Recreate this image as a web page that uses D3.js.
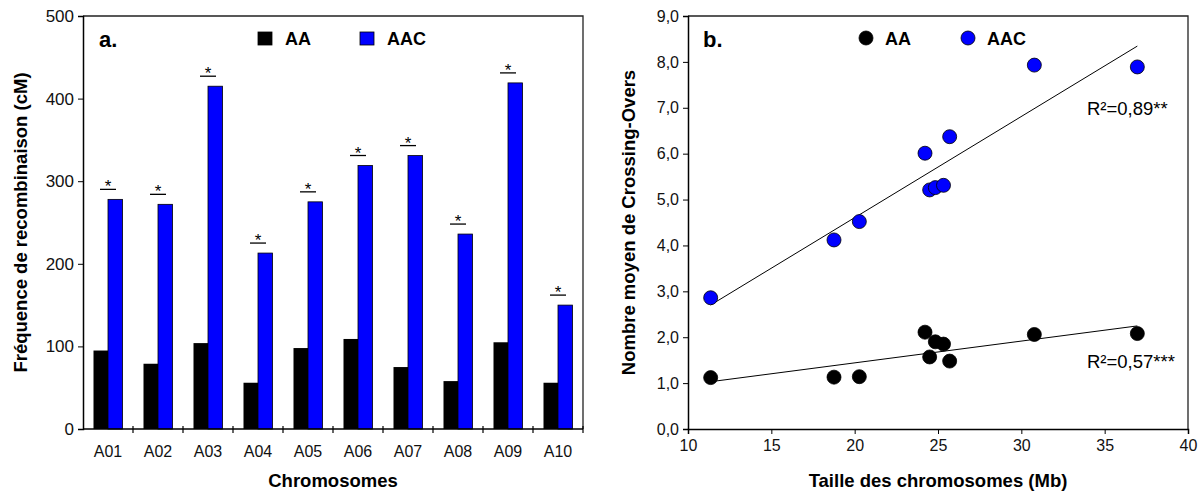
<!DOCTYPE html>
<html>
<head>
<meta charset="utf-8">
<script src="https://cdn.jsdelivr.net/npm/d3@7"></script>
<style>
  body { margin: 0; background: #fff; }
  svg text { font-family: Arial, "Liberation Sans", sans-serif; }
</style>
</head>
<body>
<div id="chart"></div>
<script>
// panel a: recombination frequency per chromosome
var chromosomes = ["A01", "A02", "A03", "A04", "A05", "A06", "A07", "A08", "A09", "A10"];
var freqAA  = [95, 79, 104, 56, 98, 109, 75, 58, 105, 56];
var freqAAC = [278, 272, 415, 213, 275, 319, 331, 236, 419, 150];
var yTicksA = [0, 100, 200, 300, 400, 500];

// panel b: mean crossing-overs vs chromosome size
var sizeMb  = [11.36, 18.76, 20.28, 24.22, 24.5, 24.84, 25.33, 25.7, 30.78, 36.96];
var coAA    = [1.12, 1.13, 1.14, 2.11, 1.57, 1.90, 1.85, 1.48, 2.06, 2.08];
var coAAC   = [2.86, 4.12, 4.52, 6.01, 5.21, 5.26, 5.31, 6.37, 7.93, 7.89];
var xTicksB = [10, 15, 20, 25, 30, 35, 40];
var yTicksB = [0, 1, 2, 3, 4, 5, 6, 7, 8, 9];
var r2Labels = ["R²=0,57***", "R²=0,89**"];

var width = 1203, height = 491;
var blue = "#0000ff";
var titleSize = 18.5;

var svg = d3.select("#chart").append("svg")
    .attr("width", width)
    .attr("height", height);

// ---------- panel a ----------
var topY = 16, bottomY = 429;
var ax0 = 83, ax1 = 583;

var xA = d3.scaleBand().domain(chromosomes).range([ax0, ax1]);
var yA = d3.scaleLinear().domain([0, 500]).range([bottomY, topY]);
var barW = 14.5;

var gA = svg.append("g");

// frame top/right
gA.append("path")
    .attr("d", "M" + ax0 + "," + topY + "H" + ax1 + "V" + bottomY)
    .attr("fill", "none").attr("stroke", "#222").attr("stroke-width", 1.3);

var groups = gA.selectAll(".grp")
    .data(chromosomes)
    .enter().append("g");

groups.append("rect")
    .attr("x", function(d) { return xA(d) + xA.bandwidth() / 2 - barW; })
    .attr("y", function(d, i) { return yA(freqAA[i]); })
    .attr("width", barW)
    .attr("height", function(d, i) { return bottomY - yA(freqAA[i]); })
    .attr("fill", "#000");

groups.append("rect")
    .attr("x", function(d) { return xA(d) + xA.bandwidth() / 2; })
    .attr("y", function(d, i) { return yA(freqAAC[i]); })
    .attr("width", barW)
    .attr("height", function(d, i) { return bottomY - yA(freqAAC[i]); })
    .attr("fill", blue)
    .attr("stroke", "#000")
    .attr("stroke-width", 0.8);

// significance marks
groups.append("line")
    .attr("x1", function(d) { return xA(d) + xA.bandwidth() / 2 - 8; })
    .attr("x2", function(d) { return xA(d) + xA.bandwidth() / 2 + 8; })
    .attr("y1", function(d, i) { return yA(freqAAC[i]) - 10; })
    .attr("y2", function(d, i) { return yA(freqAAC[i]) - 10; })
    .attr("stroke", "#000").attr("stroke-width", 1.3);

groups.append("text")
    .attr("x", function(d) { return xA(d) + xA.bandwidth() / 2; })
    .attr("y", function(d, i) { return yA(freqAAC[i]) - 7; })
    .attr("text-anchor", "middle")
    .attr("font-size", 17)
    .text("*");

// y axis
gA.append("g")
    .attr("transform", "translate(" + ax0 + ",0)")
    .call(d3.axisLeft(yA).tickValues(yTicksA).tickSize(5).tickPadding(4))
    .call(function(g) {
        g.select(".domain").attr("stroke-width", 1.5);
        g.selectAll("text").attr("font-size", 17).attr("fill", "#111");
    });

// x axis: labels centered, ticks at boundaries
gA.append("line")
    .attr("x1", ax0).attr("x2", ax1).attr("y1", bottomY).attr("y2", bottomY)
    .attr("stroke", "#000").attr("stroke-width", 1.5);
gA.selectAll(".xtick")
    .data(chromosomes)
    .enter().append("line")
    .attr("x1", function(d) { return xA(d) + xA.bandwidth(); })
    .attr("x2", function(d) { return xA(d) + xA.bandwidth(); })
    .attr("y1", bottomY - 3).attr("y2", bottomY + 4)
    .attr("stroke", "#000").attr("stroke-width", 1.2);
gA.selectAll(".xlab")
    .data(chromosomes)
    .enter().append("text")
    .attr("x", function(d) { return xA(d) + xA.bandwidth() / 2; })
    .attr("y", 457)
    .attr("text-anchor", "middle")
    .attr("font-size", 16)
    .attr("fill", "#111")
    .text(function(d) { return d; });

gA.append("text")
    .attr("x", (ax0 + ax1) / 2).attr("y", 487)
    .attr("text-anchor", "middle")
    .attr("font-size", titleSize).attr("font-weight", "bold")
    .text("Chromosomes");

gA.append("text")
    .attr("transform", "translate(27," + (topY + bottomY) / 2 + ") rotate(-90)")
    .attr("text-anchor", "middle")
    .attr("font-size", titleSize).attr("font-weight", "bold")
    .text("Fréquence de recombinaison (cM)");

gA.append("text")
    .attr("x", 99).attr("y", 47)
    .attr("font-size", 22).attr("font-weight", "bold")
    .text("a.");

// legend a
var legA = [{name: "AA", color: "#000", x: 258}, {name: "AAC", color: blue, x: 360}];
legA.forEach(function(l) {
    gA.append("rect")
        .attr("x", l.x).attr("y", 32).attr("width", 14).attr("height", 13)
        .attr("fill", l.color).attr("stroke", "#000").attr("stroke-width", 0.8);
    gA.append("text")
        .attr("x", l.x + 27).attr("y", 45)
        .attr("font-size", 18).attr("font-weight", "bold")
        .text(l.name);
});

// ---------- panel b ----------
var bx0 = 688, bx1 = 1188;
var xB = d3.scaleLinear().domain([10, 40]).range([bx0, bx1]);
var yB = d3.scaleLinear().domain([0, 9]).range([bottomY, topY]);

var gB = svg.append("g");

gB.append("path")
    .attr("d", "M" + bx0 + "," + topY + "H" + bx1 + "V" + bottomY)
    .attr("fill", "none").attr("stroke", "#222").attr("stroke-width", 1.3);

gB.append("g")
    .attr("transform", "translate(" + bx0 + ",0)")
    .call(d3.axisLeft(yB).tickValues(yTicksB).tickSize(5).tickPadding(4)
        .tickFormat(function(d) { return d3.format(".1f")(d).replace(".", ","); }))
    .call(function(g) {
        g.select(".domain").attr("stroke-width", 1.5);
        g.selectAll("text").attr("font-size", 16).attr("fill", "#111");
    });

gB.append("g")
    .attr("transform", "translate(0," + bottomY + ")")
    .call(d3.axisBottom(xB).tickValues(xTicksB).tickSize(5).tickPadding(6))
    .call(function(g) {
        g.select(".domain").attr("stroke-width", 1.5);
        g.selectAll("text").attr("font-size", 16).attr("fill", "#111");
    });

gB.append("text")
    .attr("x", (bx0 + bx1) / 2).attr("y", 487)
    .attr("text-anchor", "middle")
    .attr("font-size", titleSize).attr("font-weight", "bold")
    .text("Taille des chromosomes (Mb)");

gB.append("text")
    .attr("transform", "translate(635," + (topY + bottomY) / 2 + ") rotate(-90)")
    .attr("text-anchor", "middle")
    .attr("font-size", titleSize).attr("font-weight", "bold")
    .text("Nombre moyen de Crossing-Overs");

gB.append("text")
    .attr("x", 703).attr("y", 47)
    .attr("font-size", 22).attr("font-weight", "bold")
    .text("b.");

// least squares fit
function fit(xs, ys) {
    var mx = d3.mean(xs), my = d3.mean(ys);
    var sxy = 0, sxx = 0;
    for (var i = 0; i < xs.length; i++) {
        sxy += (xs[i] - mx) * (ys[i] - my);
        sxx += (xs[i] - mx) * (xs[i] - mx);
    }
    var b = sxy / sxx;
    return function(x) { return my + b * (x - mx); };
}

var series = [
    {name: "AA", ys: coAA, color: "#000"},
    {name: "AAC", ys: coAAC, color: blue}
];

var xmin = d3.min(sizeMb), xmax = d3.max(sizeMb);

series.forEach(function(s) {
    var f = fit(sizeMb, s.ys);
    gB.append("line")
        .attr("x1", xB(xmin)).attr("y1", yB(f(xmin)))
        .attr("x2", xB(xmax)).attr("y2", yB(f(xmax)))
        .attr("stroke", "#000").attr("stroke-width", 1);

    gB.selectAll(".pt-" + s.name)
        .data(sizeMb)
        .enter().append("circle")
        .attr("cx", function(d) { return xB(d); })
        .attr("cy", function(d, i) { return yB(s.ys[i]); })
        .attr("r", 7)
        .attr("fill", s.color)
        .attr("stroke", "#000")
        .attr("stroke-width", 0.8);
});

gB.append("text")
    .attr("x", 1087).attr("y", 115)
    .attr("font-size", 18.5)
    .text(r2Labels[1]);
gB.append("text")
    .attr("x", 1087).attr("y", 368)
    .attr("font-size", 18.5)
    .text(r2Labels[0]);

// legend b
var legB = [{name: "AA", color: "#000", x: 866}, {name: "AAC", color: blue, x: 968}];
legB.forEach(function(l) {
    gB.append("circle")
        .attr("cx", l.x).attr("cy", 38).attr("r", 7)
        .attr("fill", l.color).attr("stroke", "#000").attr("stroke-width", 0.8);
    gB.append("text")
        .attr("x", l.x + 19).attr("y", 45)
        .attr("font-size", 18).attr("font-weight", "bold")
        .text(l.name);
});
</script>
</body>
</html>
